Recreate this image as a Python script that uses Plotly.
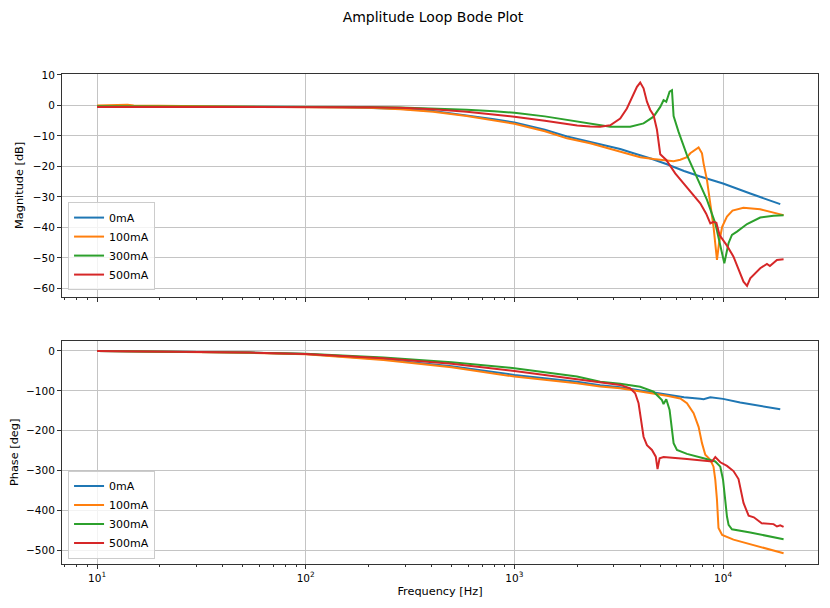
import plotly.graph_objects as go

# ---------------- data ----------------
series_names = ["0mA", "100mA", "300mA", "500mA"]
series_colors = ["#1f77b4", "#ff7f0e", "#2ca02c", "#d62728"]

# Magnitude [dB]
f_mag_0 = [10, 20, 50, 100, 150, 200, 284, 408, 591, 800, 1000, 1400, 1786, 2577, 3214, 3724,
           4500, 5383, 6500, 7776, 10000, 13500, 18800]
mag_0 = [-0.3, -0.3, -0.4, -0.5, -0.6, -0.75, -1.1, -1.8, -3.2, -4.5, -5.6, -8.0, -10.2, -12.7,
         -14.3, -15.7, -17.4, -19.3, -21.5, -23.3, -25.6, -28.9, -32.4]

f_mag_100 = [10, 12, 14, 15, 20, 50, 100, 150, 200, 284, 408, 591, 800, 1000, 1400, 1786, 2307,
             2577, 3214, 3724, 4009, 4645, 5383, 5794, 6236, 6714, 6966, 7634, 7925, 8064, 8375,
             8689, 9000, 9350, 9560, 9900, 10440, 11100, 12520, 15070, 17460, 19500]
mag_100 = [0.0, 0.2, 0.2, 0.0, -0.1, -0.3, -0.5, -0.65, -0.8, -1.3, -2.1, -3.5, -4.9, -6.0, -8.5,
           -10.8, -12.4, -13.3, -15.0, -16.4, -17.0, -17.6, -18.2, -18.3, -17.8, -17.0, -15.7,
           -13.8, -15.7, -19.0, -24.5, -32.1, -39.8, -50.7, -45.3, -39.8, -36.5, -34.5, -33.6,
           -34.1, -35.2, -36.0]

f_mag_300 = [10, 20, 50, 100, 200, 284, 408, 591, 800, 1000, 1400, 1786, 2307, 2879, 3590, 4159,
             4645, 5000, 5186, 5344, 5544, 5690, 5794, 6120, 6714, 7226, 8375, 9180, 9700, 10140,
             10620, 11030, 11660, 13030, 15070, 17460, 19500]
mag_300 = [-0.3, -0.3, -0.3, -0.4, -0.5, -0.7, -1.0, -1.4, -1.9, -2.4, -3.6, -4.8, -5.9, -7.0,
           -7.0, -5.9, -3.7, -0.5, 1.7, 1.2, 4.5, 5.0, -3.5, -8.7, -16.3, -21.2, -31.0, -38.7,
           -46.4, -51.8, -45.2, -42.5, -41.4, -38.9, -36.8, -36.2, -36.0]

f_mag_500 = [10, 20, 50, 100, 200, 284, 408, 591, 800, 1000, 1400, 1786, 2000, 2307, 2577, 2879,
             3214, 3460, 3659, 3867, 4009, 4159, 4318, 4478, 4645, 4822, 5000, 5344, 5898, 6469,
             7000, 7776, 8300, 8689, 9000, 9290, 9620, 10440, 11220, 12530, 13030, 13500, 15070,
             16230, 16770, 18120, 19500]
mag_500 = [-0.5, -0.5, -0.5, -0.5, -0.6, -0.8, -1.3, -2.1, -3.0, -3.7, -5.0, -6.1, -6.6, -6.9,
           -7.0, -6.5, -4.3, -1.0, 2.3, 6.1, 7.5, 5.6, 1.2, -1.5, -3.2, -8.0, -16.0, -17.9,
           -22.3, -25.6, -28.5, -32.1, -35.5, -38.7, -38.2, -38.5, -42.5, -46.0, -49.6, -57.8,
           -59.2, -56.7, -53.4, -52.0, -52.7, -50.7, -50.5]

# Phase [deg]
f_ph_0 = [10, 20, 54, 100, 236, 500, 1000, 1995, 2577, 3214, 4563, 5383, 6500, 7776, 8064, 8689,
          9000, 10000, 12080, 15000, 18800]
ph_0 = [0, -1.5, -4, -7.5, -21, -38, -60, -77, -86, -91, -104, -110, -116, -120, -121, -116,
        -117, -120, -129, -137, -146]

f_ph_100 = [10, 20, 54, 100, 236, 500, 1000, 1995, 2577, 3214, 4645, 5383, 6236, 6714, 7226, 7634,
            7925, 8220, 8689, 9000, 9180, 9350, 9510, 9900, 11220, 15000, 19500]
ph_100 = [0, -1.5, -4.5, -8, -22.5, -41, -64, -81, -89, -93.5, -106, -112, -119, -131, -156, -190,
          -231, -260, -273, -290, -323, -373, -444, -461, -473, -491, -507]

f_ph_300 = [10, 20, 54, 100, 236, 500, 1000, 1995, 2577, 3214, 4009, 4645, 5094, 5186, 5344, 5544,
            5690, 5794, 6012, 6714, 8064, 9180, 9700, 10000, 10240, 10440, 10630, 11030, 13500,
            19500]
ph_300 = [0, -1.5, -4, -7, -16, -28, -43, -64, -77, -82, -89.5, -102, -123, -133, -121, -148, -198,
          -231, -248, -258, -269, -277, -290, -323, -373, -415, -436, -447, -455, -472]

f_ph_500 = [10, 20, 54, 100, 236, 500, 1000, 1995, 2577, 3214, 3590, 3793, 3936, 4084, 4159, 4318,
            4563, 4760, 4853, 4965, 5186, 6714, 8064, 8850, 9180, 9700, 10440, 11220, 11860, 12530,
            13260, 14050, 15320, 17460, 18120, 18800, 19500]
ph_500 = [0, -1.5, -4, -7.5, -18, -32, -50, -71, -79, -85, -93.6, -106, -131, -181, -215, -236,
          -248, -265, -296, -269, -266, -271, -275, -277, -266, -279, -288, -301, -321, -381, -413,
          -417, -432, -434, -440, -437, -441]

mag_freqs = [f_mag_0, f_mag_100, f_mag_300, f_mag_500]
mag_vals = [mag_0, mag_100, mag_300, mag_500]
ph_freqs = [f_ph_0, f_ph_100, f_ph_300, f_ph_500]
ph_vals = [ph_0, ph_100, ph_300, ph_500]

mag_ticks = [-60, -50, -40, -30, -20, -10, 0, 10]
ph_ticks = [-500, -400, -300, -200, -100, 0]
x_major = [10, 100, 1000, 10000]
x_major_text = ["10<sup>1</sup>", "10<sup>2</sup>", "10<sup>3</sup>", "10<sup>4</sup>"]

# ---------------- figure ----------------
FONT = "DejaVu Sans"
TICK_SIZE = 10.5
LABEL_SIZE = 11.3
PAGE_OFFSET = 8          # the page body margin shifts the figure by this much
FIG_W, FIG_H = 830 - PAGE_OFFSET, 608 - PAGE_OFFSET

fig = go.Figure()

for name, col, fx, fy in zip(series_names, series_colors, mag_freqs, mag_vals):
    fig.add_trace(go.Scatter(x=fx, y=fy, mode="lines", name=name,
                             line=dict(color=col, width=2), xaxis="x", yaxis="y",
                             legend="legend"))
for name, col, fx, fy in zip(series_names, series_colors, ph_freqs, ph_vals):
    fig.add_trace(go.Scatter(x=fx, y=fy, mode="lines", name=name,
                             line=dict(color=col, width=2), xaxis="x2", yaxis="y2",
                             legend="legend2"))

minor_vals = [m * 10 ** k for k in range(0, 5) for m in range(2, 10)]

xcommon = dict(type="log", range=[0.832, 4.455], showgrid=True, gridcolor="#c4c4c4",
               gridwidth=1, showline=True, linecolor="#333333", linewidth=1, mirror=True,
               ticks="outside", ticklen=4, tickcolor="#333333", tickmode="array",
               tickvals=x_major, zeroline=False, automargin=False,
               minor=dict(tickmode="array", tickvals=minor_vals, ticks="outside", ticklen=2,
                          tickcolor="#333333", showgrid=False))
ycommon = dict(showgrid=True, gridcolor="#c4c4c4", gridwidth=1, showline=True,
               linecolor="#333333", linewidth=1, mirror=True, ticks="outside", ticklen=4,
               tickcolor="#333333", zeroline=False, tickmode="array", automargin=False,
               tickfont=dict(size=TICK_SIZE, color="#000000"))

legend_common = dict(bgcolor="rgba(255,255,255,0.8)", bordercolor="#cccccc", borderwidth=1,
                     font=dict(family=FONT, size=11, color="#000000"), xanchor="left",
                     yanchor="bottom", tracegroupgap=0, itemwidth=30)

fig.update_layout(
    width=FIG_W, height=FIG_H,
    margin=dict(l=62 - PAGE_OFFSET, r=12, t=74 - PAGE_OFFSET, b=44, autoexpand=False),
    paper_bgcolor="white", plot_bgcolor="white",
    font=dict(family=FONT, size=TICK_SIZE, color="#000000"),
    title=dict(text="Amplitude Loop Bode Plot", x=(433 - PAGE_OFFSET) / FIG_W, xref="container",
               y=1 - 4.0 / FIG_H, yref="container", xanchor="center",
               yanchor="top", font=dict(family=FONT, size=14, color="#000000")),
    xaxis=dict(xcommon, domain=[0, 1], anchor="y", showticklabels=False, matches="x2"),
    xaxis2=dict(xcommon, domain=[0, 1], anchor="y2", ticktext=x_major_text,
                tickfont=dict(size=TICK_SIZE, color="#000000"),
                title=dict(text="Frequency [Hz]", font=dict(size=LABEL_SIZE), standoff=4)),
    yaxis=dict(ycommon, domain=[0.5455, 1.0], range=[-62.75, 10.3], tickvals=mag_ticks,
               title=dict(text="Magnitude [dB]", font=dict(size=LABEL_SIZE), standoff=6)),
    yaxis2=dict(ycommon, domain=[0.0, 0.4557], range=[-534, 25.8], tickvals=ph_ticks,
                title=dict(text="Phase [deg]", font=dict(size=LABEL_SIZE), standoff=6)),
    legend=dict(legend_common, x=0.008, y=0.559),
    legend2=dict(legend_common, x=0.008, y=0.011),
    showlegend=True,
)

fig.write_html("out.html")
